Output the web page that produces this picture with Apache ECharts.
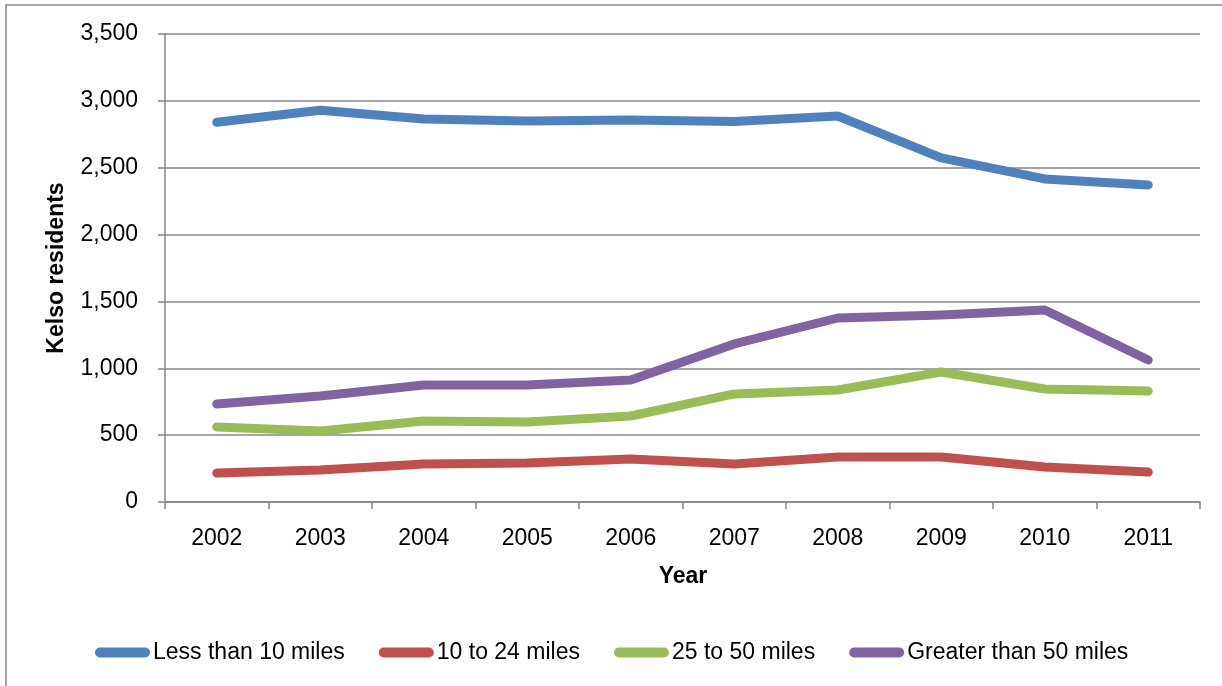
<!DOCTYPE html>
<html>
<head>
<meta charset="utf-8">
<script src="https://cdn.jsdelivr.net/npm/echarts@6/dist/echarts.min.js"></script>
<style>
  html, body { margin: 0; padding: 0; background: #fff; }
  #chart { width: 1222px; height: 686px; }
</style>
</head>
<body>
<div id="chart"></div>
<script>
// data
const years = ['2002', '2003', '2004', '2005', '2006', '2007', '2008', '2009', '2010', '2011'];
const lessThan10 = [2840, 2930, 2865, 2850, 2857, 2845, 2887, 2573, 2416, 2371];
const from10to24 = [217, 240, 284, 292, 322, 284, 337, 337, 262, 224];
const from25to50 = [561, 531, 606, 598, 643, 808, 838, 972, 845, 830];
const greaterThan50 = [733, 793, 875, 875, 912, 1182, 1376, 1399, 1436, 1062];
const seriesNames = ['Less than 10 miles', '10 to 24 miles', '25 to 50 miles', 'Greater than 50 miles'];
const colors = ['#4F81BD', '#C0504D', '#9BBB59', '#8064A2'];

const font = '"Liberation Sans", Arial, sans-serif';
const gray = '#868686';

let chart = echarts.init(document.getElementById('chart'));

function line(name, data, color) {
    return {
        name: name,
        type: 'line',
        data: data,
        showSymbol: false,
        symbol: 'none',
        color: color,
        lineStyle: { width: 9, color: color, cap: 'round', join: 'round' }
    };
}

let option = {
    animation: false,
    textStyle: { fontFamily: font },
    grid: { left: 165, right: 22, top: 34, bottom: 184 },
    legend: {
        left: 90,
        top: 636,
        itemWidth: 55,
        itemHeight: 10,
        itemGap: 34,
        icon: 'path://M5,0 H50 A5,5 0 0 1 50,10 H5 A5,5 0 0 1 5,0 Z',
        textStyle: { fontFamily: font, fontSize: 23, color: '#000', padding: [0, 0, 0, -2] },
        data: seriesNames
    },
    xAxis: {
        type: 'category',
        data: years,
        boundaryGap: true,
        axisLine: { show: true, lineStyle: { color: gray, width: 1.5 } },
        axisTick: { show: true, length: 7, lineStyle: { color: gray, width: 1.5 } },
        axisLabel: { color: '#000', fontSize: 23, margin: 25, fontFamily: font }
    },
    yAxis: {
        type: 'value',
        min: 0,
        max: 3500,
        interval: 500,
        axisLine: { show: true, lineStyle: { color: gray, width: 1.5 } },
        axisTick: { show: true, length: 7, lineStyle: { color: gray, width: 1.5 } },
        splitLine: { show: true, lineStyle: { color: gray, width: 1.5 } },
        axisLabel: {
            color: '#000', fontSize: 23, margin: 27, fontFamily: font,
            formatter: v => v.toLocaleString('en-US')
        }
    },
    graphic: [
        {
            type: 'rect',
            shape: { x: 6, y: 5, width: 1300, height: 800 },
            style: { fill: 'none', stroke: gray, lineWidth: 1.5 },
            silent: true
        },
        {
            type: 'text',
            x: 57, y: 268,
            rotation: Math.PI / 2,
            style: {
                text: 'Kelso residents', fontFamily: font, fontSize: 23, fontWeight: 'bold',
                fill: '#000', align: 'center', verticalAlign: 'middle'
            }
        },
        {
            type: 'text',
            x: 683, y: 577,
            style: {
                text: 'Year', fontFamily: font, fontSize: 23, fontWeight: 'bold',
                fill: '#000', align: 'center', verticalAlign: 'middle'
            }
        }
    ],
    series: [
        line(seriesNames[0], lessThan10, colors[0]),
        line(seriesNames[1], from10to24, colors[1]),
        line(seriesNames[2], from25to50, colors[2]),
        line(seriesNames[3], greaterThan50, colors[3])
    ]
};
chart.setOption(option);
</script>
</body>
</html>
